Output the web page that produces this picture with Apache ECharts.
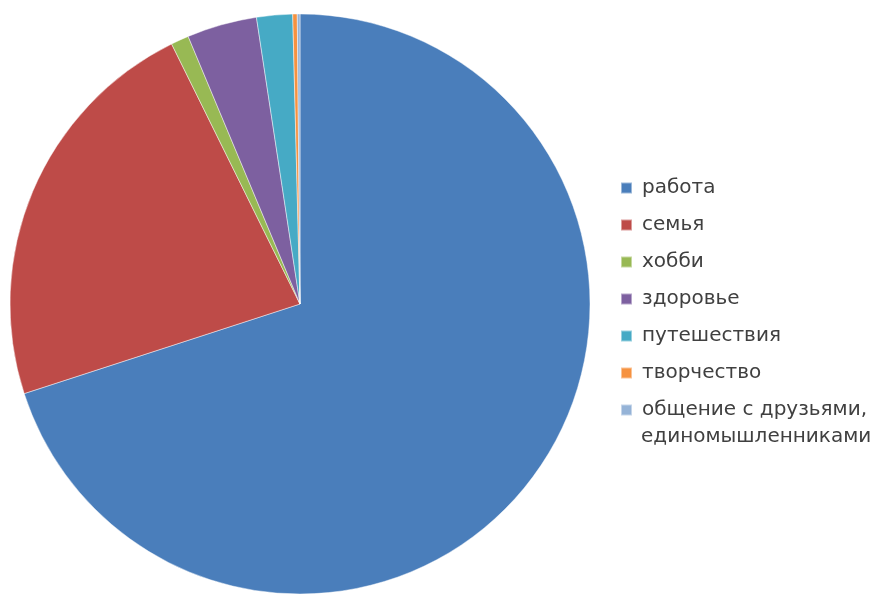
<!DOCTYPE html>
<html>
<head>
<meta charset="utf-8">
<script src="https://cdn.jsdelivr.net/npm/echarts@6/dist/echarts.min.js"></script>
<style>
html,body{margin:0;padding:0;background:#fff;}
#chart{width:879px;height:596px;}
</style>
</head>
<body>
<div id="chart"></div>
<script>
const categories = ['работа', 'семья', 'хобби', 'здоровье', 'путешествия', 'творчество', 'общение с друзьями,'];
const values = [70.0, 22.7, 1.0, 3.9, 2.0, 0.25, 0.15];
const colors = ['#4A7EBB', '#BE4B48', '#98B954', '#7D60A0', '#46AAC5', '#F69240', '#95B3D7'];
const extraLegendLine = 'единомышленниками';

const chart = echarts.init(document.getElementById('chart'), null, {renderer: 'canvas'});
const font = '"DejaVu Sans", sans-serif';
chart.setOption({
  animation: false,
  backgroundColor: '#fff',
  color: colors,
  legend: {
    orient: 'vertical',
    left: 615,
    top: 172,
    icon: 'rect',
    itemWidth: 11,
    itemHeight: 11,
    itemGap: 15,
    selectedMode: false,
    data: categories,
    textStyle: {
      fontFamily: font,
      fontSize: 20,
      lineHeight: 22,
      color: '#404040',
      padding: [0, 0, 0, 5]
    }
  },
  graphic: [{
    type: 'text',
    left: 641,
    top: 427,
    style: {
      text: extraLegendLine,
      font: '20px ' + font,
      fill: '#404040'
    }
  }],
  series: [{
    type: 'pie',
    center: [300, 304],
    radius: [0, 290],
    startAngle: 90,
    clockwise: true,
    label: {show: false},
    labelLine: {show: false},
    emphasis: {disabled: true},
    itemStyle: {borderColor: 'rgba(255,255,255,0.45)', borderWidth: 1},
    data: categories.map((c, i) => ({name: c, value: values[i]}))
  }]
});
</script>
</body>
</html>
